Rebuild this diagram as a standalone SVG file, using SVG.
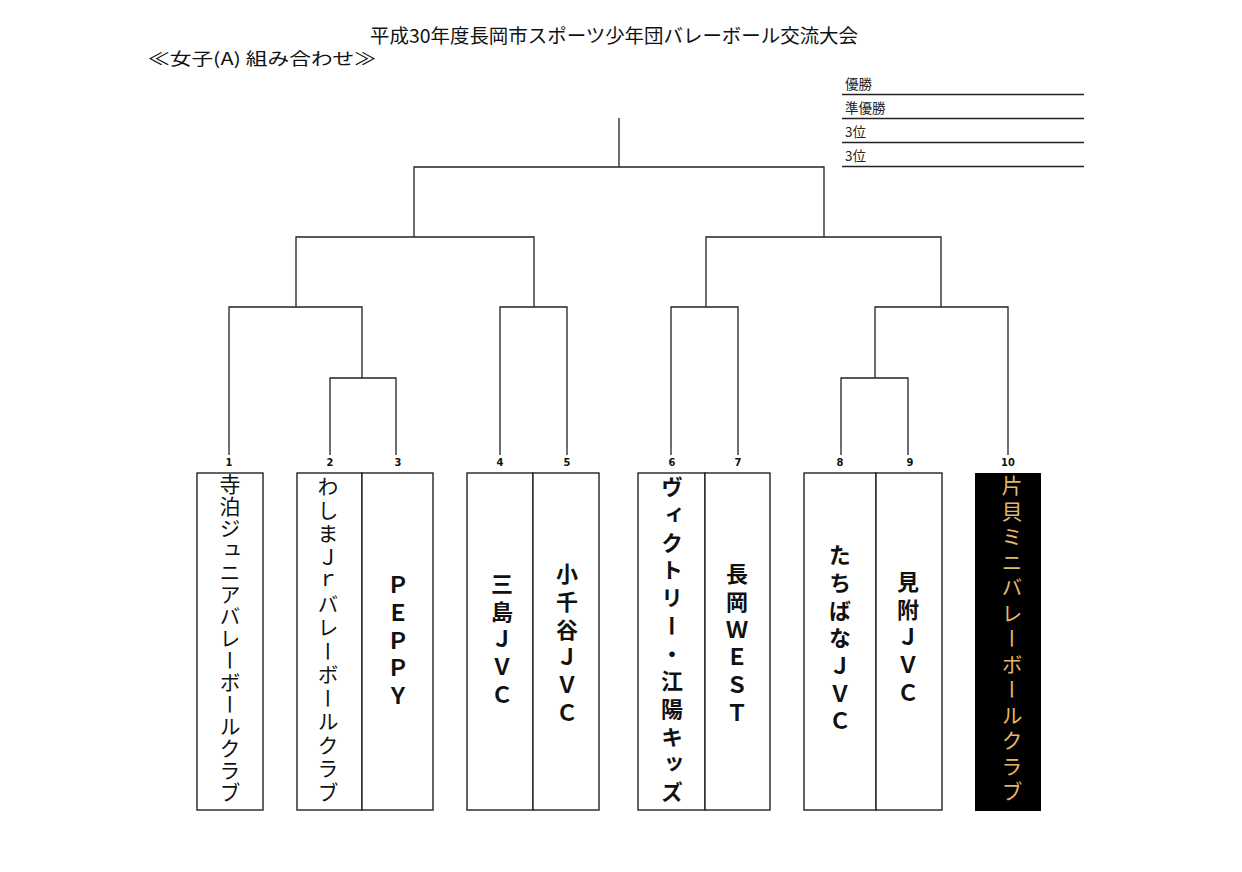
<svg xmlns="http://www.w3.org/2000/svg" width="1242" height="872" viewBox="0 0 1242 872">
<style>
.ln{stroke:#222;stroke-width:1.3;fill:none}
.box{fill:#fff;stroke:#222;stroke-width:1.4}
.num{font-family:"DejaVu Sans Condensed","DejaVu Sans",sans-serif;font-weight:bold;font-size:11px;text-anchor:middle;fill:#111}
.v{font-family:"Noto Sans CJK JP",sans-serif;writing-mode:vertical-rl;text-orientation:upright;fill:#111}
.vr{font-size:21px;font-weight:normal}
.vb{font-size:22px;font-weight:bold;letter-spacing:5.7px}
.hd{font-family:"Noto Sans CJK JP",sans-serif;fill:#111}
.res{font-family:"Noto Sans CJK JP",sans-serif;font-size:13.5px;fill:#222}
</style>
<rect width="1242" height="872" fill="#fff"/>
<g id="title">
<text class="hd" x="370" y="43" font-size="19" textLength="488" lengthAdjust="spacingAndGlyphs">平成30年度長岡市スポーツ少年団バレーボール交流大会</text>
<text class="hd" x="148" y="65" font-size="17" textLength="228" lengthAdjust="spacingAndGlyphs">≪女子(A) 組み合わせ≫</text>
</g>
<g id="results">
<text class="res" x="845" y="89">優勝</text>
<text class="res" x="845" y="113">準優勝</text>
<text class="res" x="845" y="137">3位</text>
<text class="res" x="845" y="161">3位</text>
<line class="ln" x1="842" y1="94.5" x2="1084" y2="94.5"/>
<line class="ln" x1="842" y1="118.5" x2="1084" y2="118.5"/>
<line class="ln" x1="842" y1="142.5" x2="1084" y2="142.5"/>
<line class="ln" x1="842" y1="166.5" x2="1084" y2="166.5"/>
</g>
<g id="connectors">
<path class="ln" d="M619,118V167M414,237V167H824V237"/>
<path class="ln" d="M296,307V237H534V307M706,307V237H941V307"/>
<path class="ln" d="M229,455V307H362V378M500,455V307H567V455M671,455V307H738V455M875,378V307H1008V455"/>
<path class="ln" d="M330,455V378H396V455M841,455V378H908V455"/>
</g>
<g id="numbers">
<text class="num" x="229" y="466">1</text>
<text class="num" x="330" y="466">2</text>
<text class="num" x="398" y="466">3</text>
<text class="num" x="500" y="466">4</text>
<text class="num" x="567" y="466">5</text>
<text class="num" x="672" y="466">6</text>
<text class="num" x="738" y="466">7</text>
<text class="num" x="840" y="466">8</text>
<text class="num" x="910" y="466">9</text>
<text class="num" x="1008" y="466">10</text>
</g>
<g id="team1"><rect class="box" x="197" y="473" width="66" height="337"/><text class="v vr" x="230" y="474" letter-spacing="1">寺泊ジュニアバレーボールクラブ</text></g>
<g id="team2"><rect class="box" x="297" y="473" width="65" height="337"/><text class="v vr" x="328" y="476" letter-spacing="2.5">わしまＪｒバレーボールクラブ</text></g>
<g id="team3"><rect class="box" x="362" y="473" width="71" height="337"/><text class="v vb" x="398" y="574">ＰＥＰＰＹ</text></g>
<g id="team4"><rect class="box" x="467" y="473" width="66" height="337"/><text class="v vb" x="502" y="573">三島ＪＶＣ</text></g>
<g id="team5"><rect class="box" x="533" y="473" width="66" height="337"/><text class="v vb" x="567" y="563">小千谷ＪＶＣ</text></g>
<g id="team6"><rect class="box" x="638" y="473" width="67" height="337"/><text class="v vb" x="672" y="476">ヴィクトリー・江陽キッズ</text></g>
<g id="team7"><rect class="box" x="705" y="473" width="65" height="337"/><text class="v vb" x="737" y="563">長岡ＷＥＳＴ</text></g>
<g id="team8"><rect class="box" x="804" y="473" width="72" height="337"/><text class="v vb" x="840" y="544">たちばなＪＶＣ</text></g>
<g id="team9"><rect class="box" x="876" y="473" width="66" height="337"/><text class="v vb" x="908" y="571">見附ＪＶＣ</text></g>
<g id="team10"><rect x="975" y="473" width="66" height="338" fill="#000"/><text class="v vr" x="1012" y="475" letter-spacing="4.5" style="fill:#e2b76a">片貝ミニバレーボールクラブ</text></g>
</svg>
